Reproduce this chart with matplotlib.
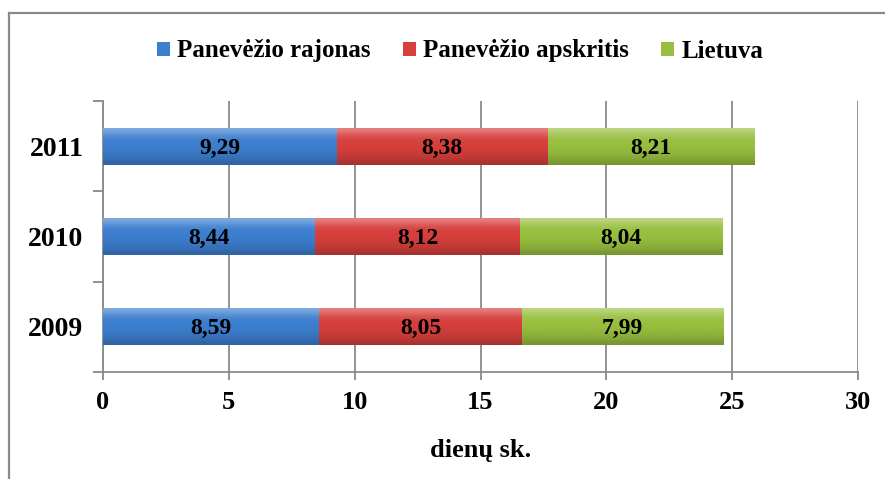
import numpy as np
import matplotlib
matplotlib.use("Agg")
import matplotlib.pyplot as plt
from matplotlib.lines import Line2D
from matplotlib.colors import to_rgb
from matplotlib.patches import Patch

years = ["2009", "2010", "2011"]
series = ["Panevėžio rajonas", "Panevėžio apskritis", "Lietuva"]
rajonas = [8.59, 8.44, 9.29]
apskritis = [8.05, 8.12, 8.38]
lietuva = [7.99, 8.04, 8.21]
labels = [["8,59", "8,44", "9,29"], ["8,05", "8,12", "8,38"], ["7,99", "8,04", "8,21"]]
xticks = [0, 5, 10, 15, 20, 25, 30]
xlabel = "dienų sk."

colors = ["#3d7fcf", "#d63f3c", "#98bf3f"]

plt.rcParams['font.family'] = ['Liberation Serif', 'DejaVu Serif']
plt.rcParams['font.weight'] = 'bold'

fig = plt.figure(figsize=(8.85, 4.79), dpi=100)
ax = fig.add_axes([103/885, 1-372/479, (858-103)/885, (372-101)/479])

y = np.arange(len(years))
h = 0.41
left = np.zeros(len(years))
vals = [rajonas, apskritis, lietuva]


def shade(c, f):
    r = np.array(to_rgb(c))
    if f > 0:
        return r + (1 - r) * f
    return r * (1 + f)


for si, (v, c) in enumerate(zip(vals, colors)):
    bars = ax.barh(y, v, height=h, left=left, color=c, zorder=2, edgecolor='none')
    # vertical gradient for a bevelled look (row 0 = top)
    prof = np.array([0.35, 0.2, 0.05, 0.0, 0.0, -0.03, -0.07, -0.12, -0.22])
    grad = np.array([shade(c, f) for f in prof])[:, None, :]
    for b in bars:
        x0, y0 = b.get_x(), b.get_y()
        w, hh = b.get_width(), b.get_height()
        im = ax.imshow(grad, extent=[x0, x0 + w, y0, y0 + hh], origin='upper',
                       aspect='auto', interpolation='bicubic', zorder=3)
        im.set_clip_path(b)
    for yi, (l, vv, t) in enumerate(zip(left, v, labels[si])):
        ax.text(l + vv / 2, yi - 0.02, t, ha='center', va='center', fontsize=17,
                fontweight='bold', color='black', zorder=5)
    left = left + np.array(v)

ax.set_xlim(0, 30)
ax.set_ylim(-0.5, 2.5)
ax.set_xticks(xticks)
ax.set_xticklabels([str(t) for t in xticks], fontsize=19, fontweight='bold')
ax.set_yticks(y)
ax.set_yticklabels(years, fontsize=20, fontweight='bold')
ax.set_yticks([-0.5, 0.5, 1.5, 2.5], minor=True)
ax.tick_params(axis='y', which='major', length=0, pad=14)
ax.tick_params(axis='y', which='minor', length=7, width=1.3, color='#888888', direction='out')
ax.tick_params(axis='x', length=6, width=1.3, color='#888888', direction='out', pad=8)
ax.grid(axis='x', color='#8a8a8a', linewidth=1.3, zorder=0)
ax.set_axisbelow(True)
for s in ['top', 'right']:
    ax.spines[s].set_visible(False)
for s in ['left', 'bottom']:
    ax.spines[s].set_color('#8a8a8a')
    ax.spines[s].set_linewidth(1.3)

ax.set_xlabel(xlabel, fontsize=19, fontweight='bold', labelpad=18)

handles = [Patch(facecolor=c, edgecolor='none') for c in colors]
leg = fig.legend(handles, series, loc='center', bbox_to_anchor=(0.52, 1 - 51/479),
                 ncol=3, frameon=False, handlelength=0.5, handleheight=0.5,
                 handletextpad=0.3, columnspacing=1.3, prop={'weight': 'bold', 'size': 18})

# outer chart border (top and left visible)
fig.add_artist(Line2D([8.5/885, 1.0], [1-13/479, 1-13/479], color='#8a8a8a', lw=1.6,
                      transform=fig.transFigure))
fig.add_artist(Line2D([8.5/885, 8.5/885], [0, 1-13/479], color='#8a8a8a', lw=1.6,
                      transform=fig.transFigure))

fig.savefig("out.png", dpi=100)
